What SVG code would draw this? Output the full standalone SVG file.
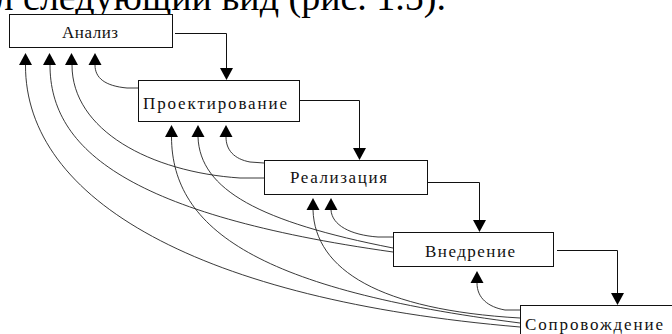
<svg xmlns="http://www.w3.org/2000/svg" xmlns:xlink="http://www.w3.org/1999/xlink" width="672" height="334" viewBox="0 0 672 334">
<style>
.box{fill:#fff;stroke:#111;stroke-width:1}
.lbl{font-family:"Liberation Serif","Times New Roman",serif;font-size:17px;fill:#111}
.ln{fill:none;stroke:#111;stroke-width:1}
.cv{fill:none;stroke:#222;stroke-width:0.9}
.ah{fill:#000}
.top{font-family:"Liberation Serif","Times New Roman",serif;font-size:38px;fill:#000}
</style>
<defs>
<path id="ua" d="M0,0 L6.5,12 L-6.5,12 Z"/>
<path id="da" d="M0,0 L6.5,-12 L-6.5,-12 Z"/>
</defs>
<rect width="672" height="334" fill="#fff"/>
<text class="top" x="446" y="10" text-anchor="end">л следующий вид (рис. 1.5).</text>

<g id="connectors">
  <path class="ln" d="M175,33.5 H226.5 V68"/>
  <path class="ln" d="M300,100.5 H359.5 V148"/>
  <path class="ln" d="M428,182.5 H479.5 V220"/>
  <path class="ln" d="M557,250.5 H617.5 V293"/>
  <path class="cv" d="M138,88 L127,88 C105,86 95,78 95,65"/>
  <path class="cv" d="M264,163 L250,162 C234,159 226,150 226,137"/>
  <path class="cv" d="M264,178 L240,178 C150,172 72,130 72,65"/>
  <path class="cv" d="M393,237 L378,237 C350,235 332,225 331,210"/>
  <path class="cv" d="M198,137 C200,190 260,222 393,248"/>
  <path class="cv" d="M50,65 C50,150 130,215 393,252"/>
  <path class="cv" d="M520,310 L505,310 C488,307 477,298 477,283"/>
  <path class="cv" d="M313,210 C315,270 380,310 520,318"/>
  <path class="cv" d="M171.5,137 C172,230 260,290 520,323"/>
  <path class="cv" d="M25.5,65 C25,200 200,300 520,327"/>
  <g class="ah">
    <use xlink:href="#da" x="226.5" y="80"/>
    <use xlink:href="#da" x="359.5" y="160"/>
    <use xlink:href="#da" x="479.5" y="232"/>
    <use xlink:href="#da" x="617.5" y="305"/>
    <use xlink:href="#ua" x="25.5" y="53"/>
    <use xlink:href="#ua" x="49.5" y="53"/>
    <use xlink:href="#ua" x="71.5" y="53"/>
    <use xlink:href="#ua" x="95" y="53"/>
    <use xlink:href="#ua" x="171.5" y="125"/>
    <use xlink:href="#ua" x="198" y="125"/>
    <use xlink:href="#ua" x="226" y="125"/>
    <use xlink:href="#ua" x="313" y="198"/>
    <use xlink:href="#ua" x="331" y="198"/>
    <use xlink:href="#ua" x="477" y="271"/>
  </g>
</g>

<g id="analiz">
  <rect class="box" x="9.5" y="14.5" width="163" height="33"/>
  <text class="lbl" x="62" y="37.5" textLength="56">Анализ</text>
</g>
<g id="proekt">
  <rect class="box" x="138.5" y="80.5" width="161" height="41"/>
  <text class="lbl" x="143" y="109" textLength="144">Проектирование</text>
</g>
<g id="realiz">
  <rect class="box" x="264.5" y="160.5" width="163" height="34"/>
  <text class="lbl" x="290" y="183" textLength="97">Реализация</text>
</g>
<g id="vnedr">
  <rect class="box" x="393.5" y="232.5" width="160" height="34"/>
  <text class="lbl" x="425" y="257" textLength="90">Внедрение</text>
</g>
<g id="soprov">
  <rect class="box" x="520.5" y="305.5" width="170" height="40"/>
  <text class="lbl" x="525" y="330" textLength="138">Сопровождение</text>
</g>
</svg>
